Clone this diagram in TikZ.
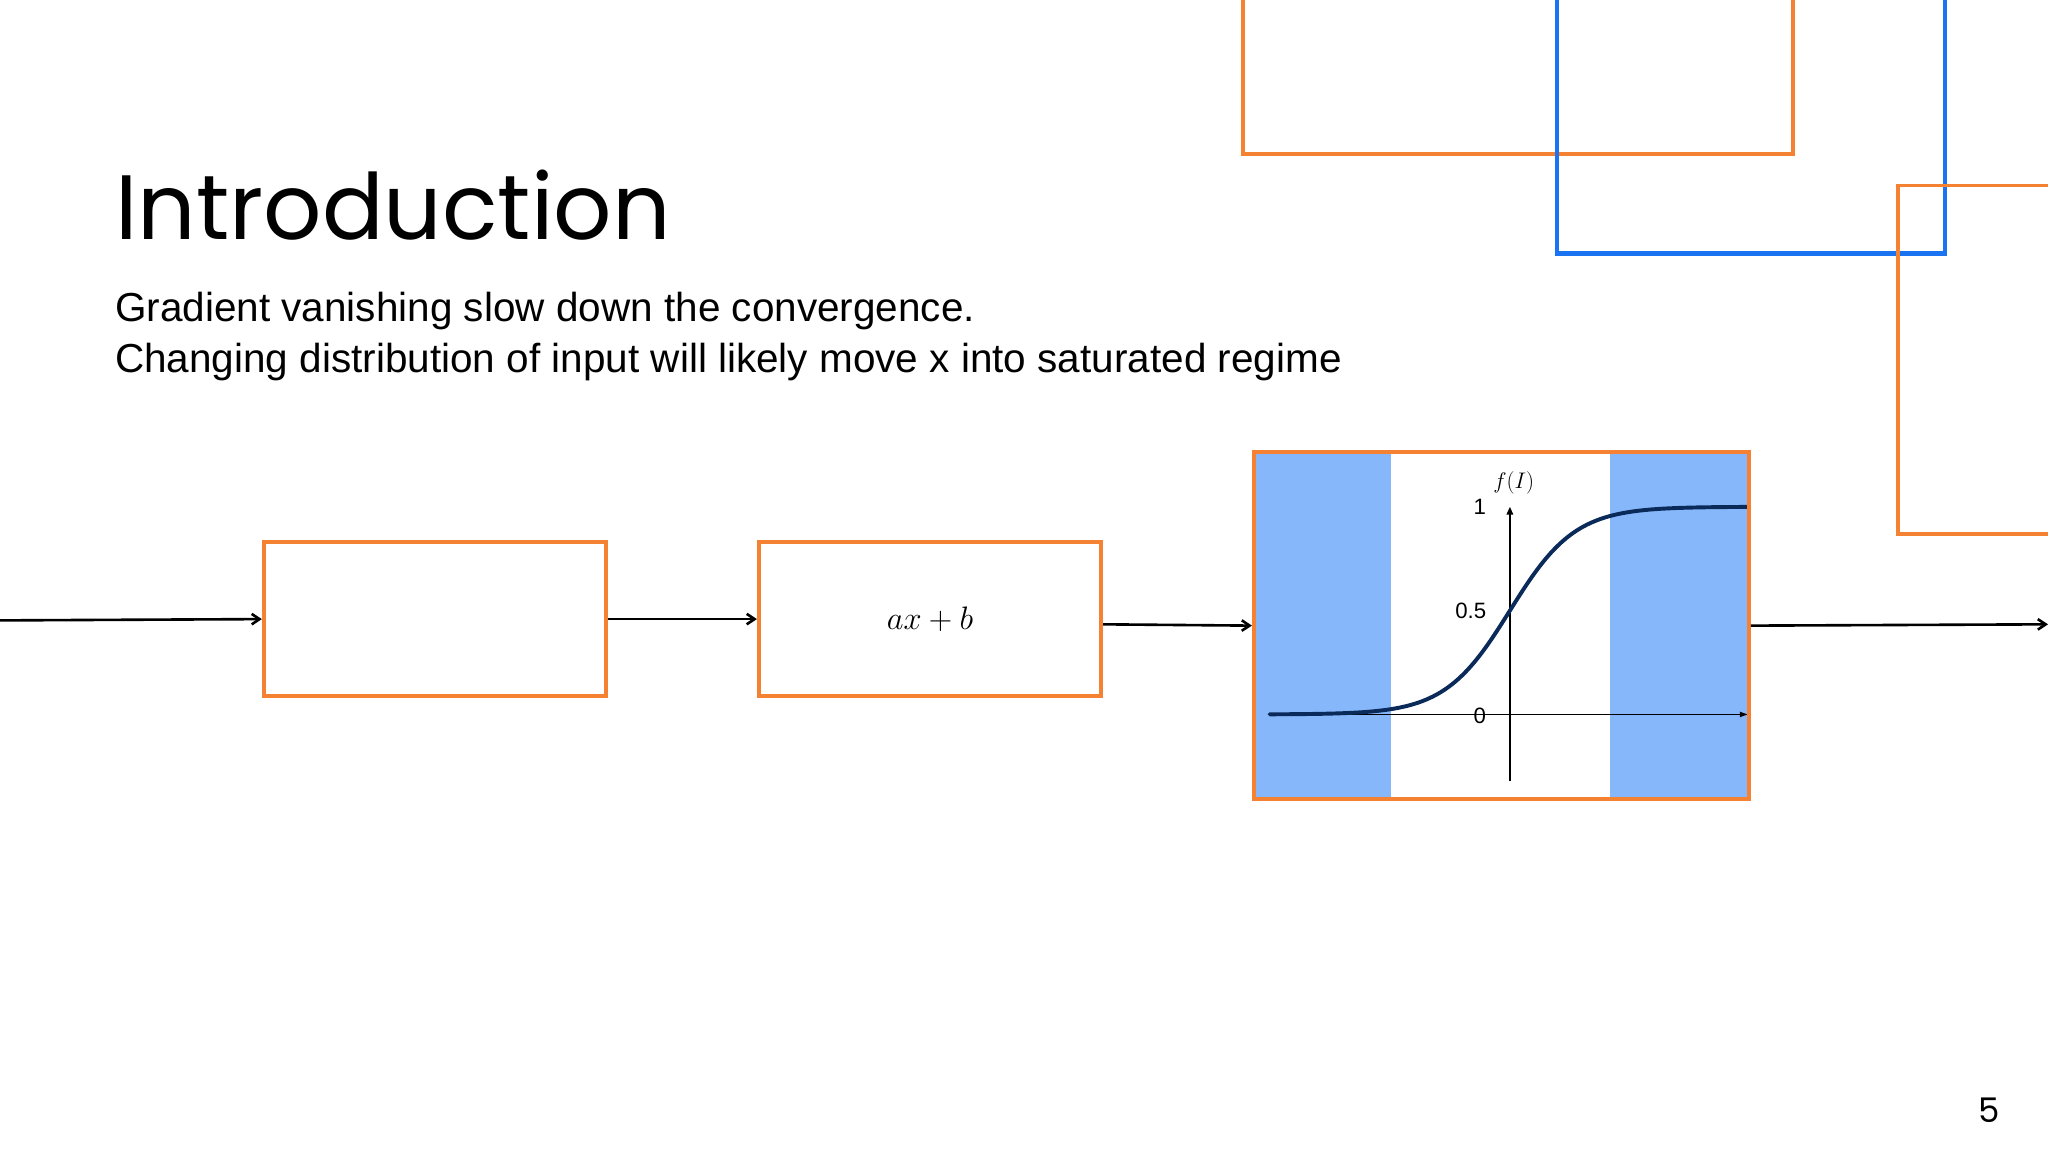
\documentclass[tikz,border=0pt]{standalone}
\usepackage{fontspec}
\setmainfont{Liberation Sans}
\newfontfamily\titlefont{Poppins}
\usetikzlibrary{arrows.meta}
\definecolor{ora}{HTML}{F58232}
\definecolor{blu}{HTML}{1A73F0}
\definecolor{band}{HTML}{86B7FB}
\definecolor{curve}{HTML}{0A2A5A}
\begin{document}
\begin{tikzpicture}[x=1pt,y=-1pt,
  obox/.style={draw=ora,line width=3pt},
  conn/.style={-{Straight Barb[length=6pt,width=8pt]},line width=2pt}]
\useasboundingbox[fill=white] (0,0) rectangle (1568,882);
% decorative rectangles
\draw[obox] (952,-10) rectangle (1373,118);
\draw[draw=blu,line width=3.5pt] (1192,-10) rectangle (1489,194);
\draw[obox] (1453,142) rectangle (1580,409);
% title and text
\node[anchor=base west,inner sep=0] (title) at (88,183) {\titlefont\fontsize{70}{80}\selectfont Introduction};
\node[anchor=base west,inner sep=0] (l1) at (88,246) {\fontsize{31}{36}\selectfont Gradient vanishing slow down the convergence.};
\node[anchor=base west,inner sep=0] (l2) at (88,285) {\fontsize{31}{36}\selectfont Changing distribution of input will likely move x into saturated regime};
% boxes
\coordinate (start) at (0,475);
\node[obox,minimum width=262pt,minimum height=118pt,inner sep=0] (b1) at (333,474) {};
\node[obox,minimum width=262pt,minimum height=118pt,inner sep=0] (b2) at (712,474) {\fontsize{72}{80}\selectfont$ax+b$};
% plot
\fill[band] (960,346) rectangle (1065,612);
\fill[band] (1233,346) rectangle (1339,612);
\draw[line width=1.2pt,-{Triangle[length=6pt,width=5pt]}] (1156,598) -- (1156,388);
\draw[line width=1pt,-{Triangle[length=6pt,width=4pt]}] (972,547) -- (1338,547);
\draw[curve,line width=3pt,line cap=round] plot[domain=972:1339,samples=120,smooth] (\x,{547-159/(1+exp(-(\x-1156)/25))});
\node[font=\fontsize{17}{20}\selectfont\rmfamily] (t1) at (1133,388) {1};
\node[font=\fontsize{17}{20}\selectfont\rmfamily] (t05) at (1126,468) {0.5};
\node[font=\fontsize{17}{20}\selectfont\rmfamily] (t0) at (1133,548) {0};
\node[font=\fontsize{19}{20}\selectfont] (fi) at (1159,370) {$f(I)$};
\node[obox,minimum width=379pt,minimum height=266pt,inner sep=0] (b3) at (1149.5,479) {};
\coordinate (end) at (1568,478);
% connectors
\draw[conn] (start) -- (b1.west);
\draw[conn] (b1.east) -- (b2.west);
\draw[conn] (b2.east |- 0,478) -- (b3.west);
\draw[conn] (b3.east) -- (end);
% page number
\node[font=\titlefont\fontsize{26}{30}\selectfont] (pg) at (1523,850) {5};
\end{tikzpicture}
\end{document}
